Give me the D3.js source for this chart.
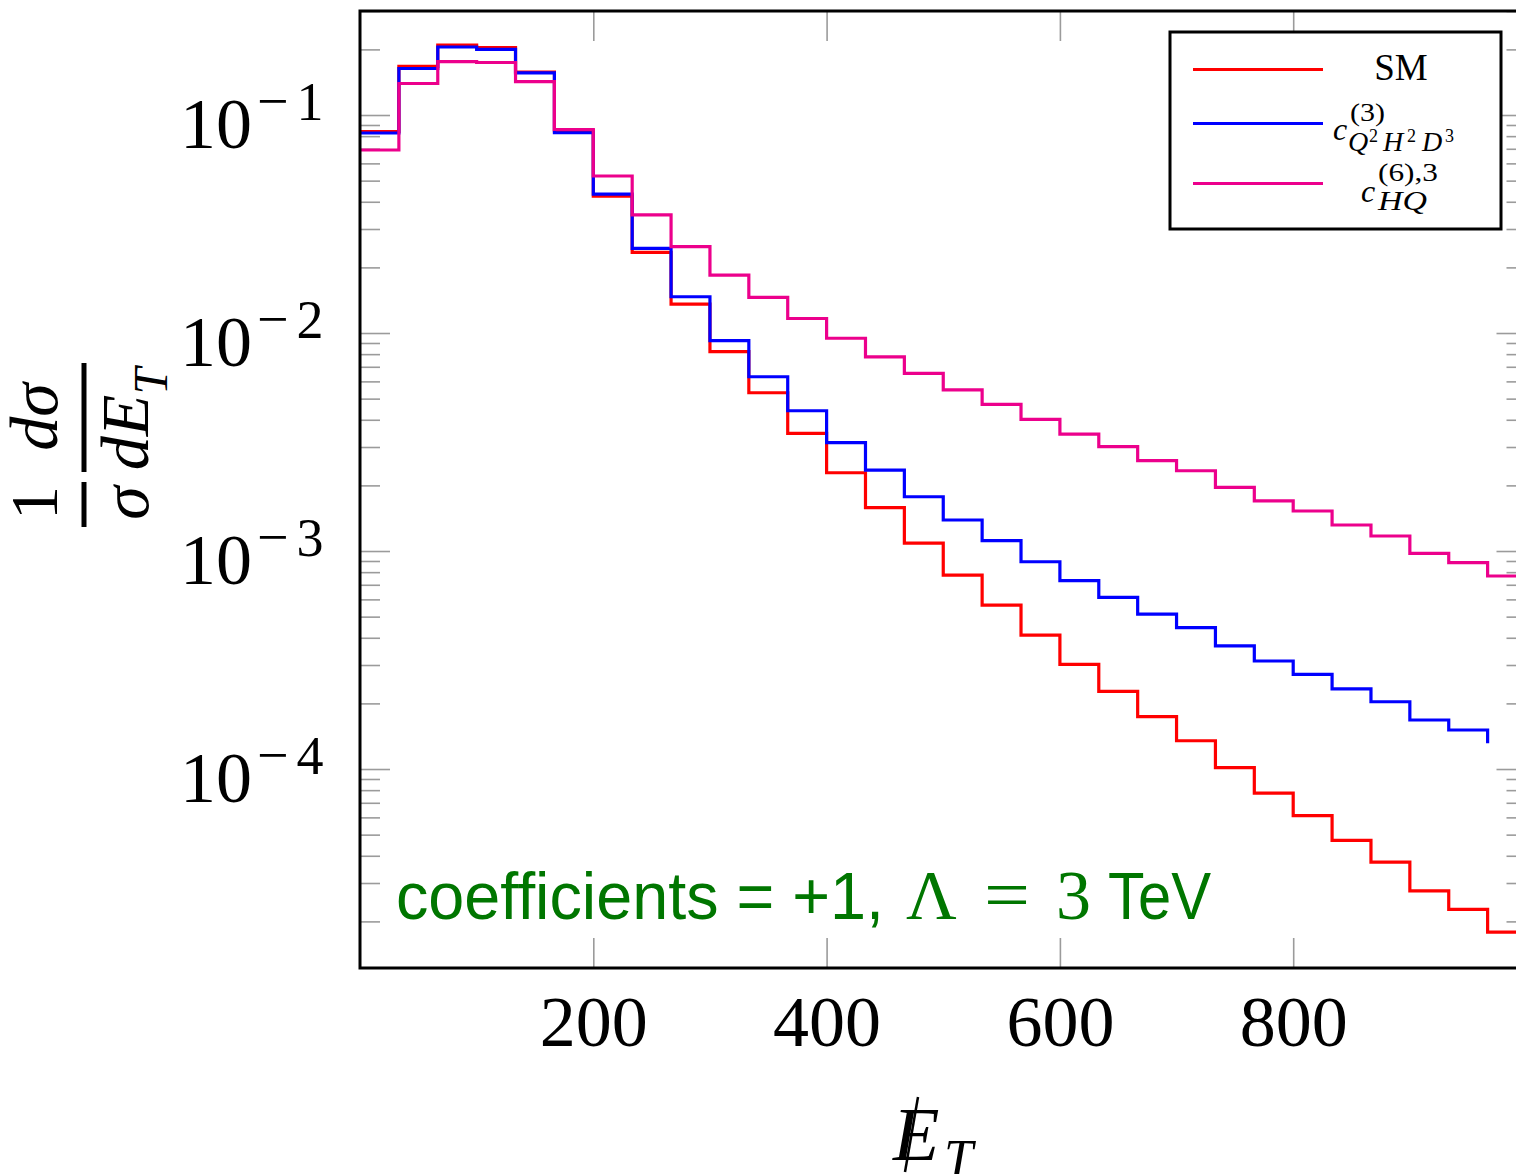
<!DOCTYPE html>
<html>
<head>
<meta charset="utf-8">
<script src="https://cdn.jsdelivr.net/npm/d3@7"></script>
<style>
body { margin: 0; background: #fff; }
svg { display: block; }
</style>
</head>
<body>
<svg id="chart"></svg>
<script>
// MET distribution, 30 bins of 1000/30 GeV, normalised
var binWidth = 1000 / 30;

var smVals = [0.0840, 0.167, 0.2095, 0.204, 0.1575, 0.0845, 0.0425, 0.02346, 0.01358, 0.00821,
              0.00532, 0.003467, 0.002286, 0.001583, 0.001088, 0.000776, 0.000565, 0.000411, 0.000302, 0.000227,
              0.000174, 0.0001348, 0.0001014, 7.76e-5, 6.11e-5, 4.71e-5, 3.74e-5, 2.76e-5, 2.27e-5, 1.784e-5];

var q2h2d3Vals = [0.0827, 0.1634, 0.2051, 0.2001, 0.1559, 0.0829, 0.0434, 0.02446, 0.01467, 0.00922,
                  0.0063, 0.0044, 0.003139, 0.002352, 0.001774, 0.001388, 0.001115, 0.000893, 0.000731, 0.000613,
                  0.000514, 0.000445, 0.000367, 0.000313, 0.000272, 0.000233, 0.0002035, 0.0001678, 0.000151];
var q2h2d3End = 0.0001312;

var hqVals = [0.0691, 0.1395, 0.1756, 0.1741, 0.1422, 0.0858, 0.0525, 0.0348, 0.02488, 0.01845,
              0.01458, 0.01166, 0.00946, 0.00778, 0.00653, 0.00548, 0.00471, 0.00402, 0.00344, 0.00301,
              0.002596, 0.002335, 0.00196, 0.0017, 0.001526, 0.001316, 0.001172, 0.000976, 0.000884, 0.000768];

var xTickVals = [200, 400, 600, 800];
var yMajorVals = [1e-1, 1e-2, 1e-3, 1e-4];
var yMajorExp = ["1", "2", "3", "4"];

var series = [
    {name: 'sm', color: '#ff0000', vals: smVals, end: null},
    {name: 'q2h2d3', color: '#0000ff', vals: q2h2d3Vals, end: q2h2d3End},
    {name: 'hq', color: 'rgb(236,0,140)', vals: hqVals, end: null}
];

var width = 1516, height = 1174;
var mLeft = 360, mTop = 11, mRight = 1526.5, mBottom = 968;

var x = d3.scaleLinear().domain([0, 1000]).range([mLeft, mRight]);
var y = d3.scaleLog().domain([1.2225e-5, 0.3]).range([mBottom, mTop]);

var svg = d3.select('#chart')
    .attr('width', width)
    .attr('height', height);

svg.append('defs').append('clipPath')
    .attr('id', 'plotclip')
    .append('rect')
    .attr('x', mLeft).attr('y', mTop)
    .attr('width', mRight - mLeft).attr('height', mBottom - mTop);

var tickColor = '#9b9b9b';
var minorVals = y.ticks().filter(function(v) {
    var l = Math.log10(v);
    return Math.abs(l - Math.round(l)) > 1e-6;
});

function styleTicks(g) {
    g.select('.domain').remove();
    g.selectAll('.tick line')
	.attr('stroke', tickColor)
	.attr('stroke-width', 1.6);
}

// minor y ticks, left and right
svg.append('g')
    .attr('transform', 'translate(' + mLeft + ',0)')
    .call(d3.axisLeft(y).tickValues(minorVals).tickSize(-20).tickFormat(''))
    .call(styleTicks);
svg.append('g')
    .attr('transform', 'translate(' + mRight + ',0)')
    .call(d3.axisRight(y).tickValues(minorVals).tickSize(-20).tickFormat(''))
    .call(styleTicks);

// major y ticks
var yLeft = svg.append('g')
    .attr('transform', 'translate(' + mLeft + ',0)')
    .call(d3.axisLeft(y).tickValues(yMajorVals).tickSize(-30))
    .call(styleTicks);
svg.append('g')
    .attr('transform', 'translate(' + mRight + ',0)')
    .call(d3.axisRight(y).tickValues(yMajorVals).tickSize(-30).tickFormat(''))
    .call(styleTicks);

yLeft.selectAll('.tick text').each(function(d, i) {
    var t = d3.select(this);
    t.text(null)
	.attr('x', 180 - mLeft)
	.attr('y', 32)
	.attr('dy', null)
	.attr('text-anchor', 'start')
	.attr('fill', '#000')
	.attr('font-family', 'Liberation Serif, serif');
    t.append('tspan').attr('font-size', 72).text('10');
    t.append('tspan').attr('font-size', 56).attr('dx', 5).attr('dy', -28).text('\u2212');
    t.append('tspan').attr('font-size', 54).attr('dx', 8).text(yMajorExp[i]);
});

// x ticks, bottom and top
var xBottom = svg.append('g')
    .attr('transform', 'translate(0,' + mBottom + ')')
    .call(d3.axisBottom(x).tickValues(xTickVals).tickSize(-30))
    .call(styleTicks);
xBottom.selectAll('.tick text')
    .attr('y', 78)
    .attr('dy', null)
    .attr('fill', '#000')
    .attr('font-size', 72)
    .attr('font-family', 'Liberation Serif, serif');

svg.append('g')
    .attr('transform', 'translate(0,' + mTop + ')')
    .call(d3.axisTop(x).tickValues(xTickVals).tickSize(-30).tickFormat(''))
    .call(styleTicks);

// histogram step lines
var line = d3.line()
    .x(function(d) { return x(d[0]); })
    .y(function(d) { return y(d[1]); })
    .curve(d3.curveStepAfter);

var plot = svg.append('g').attr('clip-path', 'url(#plotclip)');
plot.selectAll('path')
    .data(series)
    .enter()
    .append('path')
    .attr('fill', 'none')
    .attr('stroke', function(d) { return d.color; })
    .attr('stroke-width', 3.2)
    .attr('d', function(d) {
	var pts = d.vals.map(function(v, i) { return [i * binWidth, v]; });
	var last = d.end !== null ? d.end : d.vals[d.vals.length - 1];
	pts.push([d.vals.length * binWidth, last]);
	return line(pts);
    });

// frame
svg.append('rect')
    .attr('x', mLeft).attr('y', mTop)
    .attr('width', mRight - mLeft).attr('height', mBottom - mTop)
    .attr('fill', 'none')
    .attr('stroke', '#000')
    .attr('stroke-width', 3);

// annotation
var green = 'rgb(0,118,0)';
var note = svg.append('g').attr('fill', green);
note.append('text')
    .attr('x', 396).attr('y', 919)
    .attr('font-family', 'Liberation Sans, sans-serif')
    .attr('font-size', 66)
    .attr('textLength', 488)
    .attr('lengthAdjust', 'spacingAndGlyphs')
    .text('coefficients = +1,');
note.append('text')
    .attr('x', 906).attr('y', 919)
    .attr('font-family', 'Liberation Serif, serif')
    .attr('font-size', 70)
    .text('\u039b');
note.append('text')
    .attr('x', 984).attr('y', 919)
    .attr('font-family', 'Liberation Serif, serif')
    .attr('font-size', 72)
    .attr('textLength', 46)
    .attr('lengthAdjust', 'spacingAndGlyphs')
    .text('=');
note.append('text')
    .attr('x', 1056).attr('y', 919)
    .attr('font-family', 'Liberation Serif, serif')
    .attr('font-size', 70)
    .text('3');
note.append('text')
    .attr('x', 1108).attr('y', 919)
    .attr('font-family', 'Liberation Sans, sans-serif')
    .attr('font-size', 66)
    .attr('textLength', 103)
    .attr('lengthAdjust', 'spacingAndGlyphs')
    .text('TeV');

// legend
var legend = svg.append('g');
legend.append('rect')
    .attr('x', 1170).attr('y', 32)
    .attr('width', 331).attr('height', 197)
    .attr('fill', '#fff')
    .attr('stroke', '#000')
    .attr('stroke-width', 3);
var legendY = [69.5, 123.5, 183.5];
legend.selectAll('line')
    .data(series)
    .enter()
    .append('line')
    .attr('x1', 1193).attr('x2', 1323)
    .attr('y1', function(d, i) { return legendY[i]; })
    .attr('y2', function(d, i) { return legendY[i]; })
    .attr('stroke', function(d) { return d.color; })
    .attr('stroke-width', 3);

var serif = 'Liberation Serif, serif';
legend.append('text')
    .attr('x', 1401).attr('y', 80)
    .attr('text-anchor', 'middle')
    .attr('font-family', serif)
    .attr('font-size', 37)
    .text('SM');

// c^{(3)}_{Q^2 H^2 D^3}
legend.append('text')
    .attr('x', 1333).attr('y', 140)
    .attr('font-family', serif).attr('font-style', 'italic')
    .attr('font-size', 32)
    .text('c');
legend.append('text')
    .attr('x', 1350).attr('y', 121)
    .attr('font-family', serif).attr('font-size', 26)
    .attr('textLength', 35).attr('lengthAdjust', 'spacingAndGlyphs')
    .text('(3)');
var sub1 = legend.append('text')
    .attr('y', 151)
    .attr('font-family', serif);
[['Q', 1348, 0, 28, 'italic'], ['2', 1369, -9, 18, 'normal'], ['H', 1383, 9, 28, 'italic'],
 ['2', 1407, -9, 18, 'normal'], ['D', 1422, 9, 28, 'italic'], ['3', 1445, -9, 18, 'normal']]
    .forEach(function(p) {
	sub1.append('tspan')
	    .attr('x', p[1]).attr('dy', p[2])
	    .attr('font-size', p[3]).attr('font-style', p[4])
	    .text(p[0]);
    });

// c^{(6),3}_{HQ}
legend.append('text')
    .attr('x', 1361).attr('y', 202)
    .attr('font-family', serif).attr('font-style', 'italic')
    .attr('font-size', 32)
    .text('c');
legend.append('text')
    .attr('x', 1378).attr('y', 181)
    .attr('font-family', serif).attr('font-size', 26)
    .attr('textLength', 60).attr('lengthAdjust', 'spacingAndGlyphs')
    .text('(6),3');
legend.append('text')
    .attr('x', 1378).attr('y', 210)
    .attr('font-family', serif).attr('font-style', 'italic')
    .attr('font-size', 28)
    .attr('textLength', 49).attr('lengthAdjust', 'spacingAndGlyphs')
    .text('HQ');

// y axis title: (1/sigma) dsigma/dE_T, rotated
var ytitle = svg.append('g')
    .attr('transform', 'translate(84,445) rotate(-90)')
    .attr('font-family', serif)
    .attr('font-size', 68);
ytitle.append('line')
    .attr('x1', -82).attr('x2', -37).attr('y1', 0).attr('y2', 0)
    .attr('stroke', '#000').attr('stroke-width', 5);
ytitle.append('line')
    .attr('x1', -27).attr('x2', 82).attr('y1', 0).attr('y2', 0)
    .attr('stroke', '#000').attr('stroke-width', 5);
ytitle.append('text')
    .attr('x', -58).attr('y', -27)
    .attr('text-anchor', 'middle')
    .text('1');
ytitle.append('text')
    .attr('x', -58).attr('y', 64)
    .attr('text-anchor', 'middle')
    .attr('font-style', 'italic')
    .text('\u03c3');
ytitle.append('text')
    .attr('x', 28).attr('y', -27)
    .attr('text-anchor', 'middle')
    .attr('font-style', 'italic')
    .text('d\u03c3');
var dEt = ytitle.append('text')
    .attr('x', 26).attr('y', 64)
    .attr('text-anchor', 'middle')
    .attr('font-style', 'italic');
dEt.append('tspan').text('dE');
dEt.append('tspan').attr('font-size', 48).attr('dy', 19).text('T');

// x axis title: missing E_T
var xtitle = svg.append('g').attr('font-family', serif).attr('font-style', 'italic');
xtitle.append('text')
    .attr('x', 893).attr('y', 1160)
    .attr('font-size', 76)
    .text('E');
xtitle.append('text')
    .attr('x', 944).attr('y', 1176)
    .attr('font-size', 52)
    .text('T');
xtitle.append('line')
    .attr('x1', 918).attr('y1', 1097)
    .attr('x2', 905).attr('y2', 1172)
    .attr('stroke', '#000')
    .attr('stroke-width', 2.5);
</script>
</body>
</html>
